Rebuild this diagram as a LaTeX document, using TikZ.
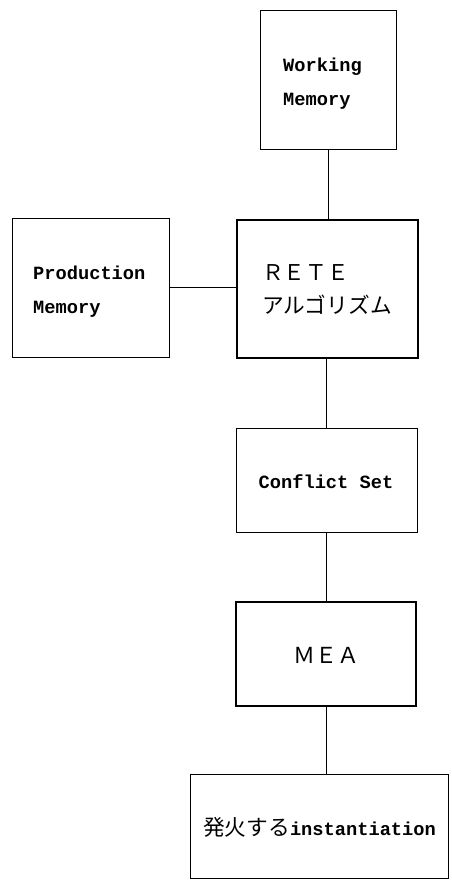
\documentclass[tikz,border=0pt]{standalone}
\usepackage{fontspec}
\newfontfamily\latmono{Liberation Mono}[BoldFont={Liberation Mono Bold}]
\newfontfamily\jpfont{Noto Sans CJK JP}
\newcommand{\latsz}{\latmono\bfseries\fontsize{18.7}{20}\selectfont}
\newcommand{\jpsz}{\jpfont\fontsize{21.7}{24}\selectfont}
\begin{document}
\begin{tikzpicture}[x=1pt,y=-1pt,
  thinbox/.style={draw=black,line width=1pt,rectangle,inner sep=0pt},
  thickbox/.style={draw=black,line width=2.6pt,rectangle,inner sep=0pt},
  lbl/.style={anchor=base west,inner sep=0pt,font=\latsz},
  jlbl/.style={anchor=base west,inner sep=0pt,font=\jpsz},
  conn/.style={draw=black,line width=1pt}]
\useasboundingbox (0,0) rectangle (451,880);
% boxes
\node[thinbox,minimum width=136pt,minimum height=138pt] (wm) at (328,80) {};
\node[thinbox,minimum width=157pt,minimum height=139pt] (pm) at (90.5,287.5) {};
\node[thickbox,minimum width=181pt,minimum height=138pt] (rete) at (327.5,289) {};
\node[thinbox,minimum width=181pt,minimum height=104pt] (cs) at (326.5,480) {};
\node[thickbox,minimum width=180pt,minimum height=104pt] (mea) at (326,654) {};
\node[thinbox,minimum width=258pt,minimum height=104pt] (fire) at (319,826) {};
% texts
\node[lbl] (wm1) at (283,72) {Working};
\node[lbl] (wm2) at (283,106) {Memory};
\node[lbl] (pm1) at (33,279) {Production};
\node[lbl] (pm2) at (33,313) {Memory};
\node[jlbl] (r1) at (262,280) {ＲＥＴＥ};
\node[jlbl] (r2) at (262,313) {アルゴリズム};
\node[lbl,anchor=base] (cst) at (326,488) {Conflict Set};
\node[jlbl,anchor=base,font=\jpfont\fontsize{22}{24}\selectfont] (meat) at (326,663) {ＭＥＡ};
\node[jlbl] (firet) at (203,835) {発火する{\latsz instantiation}};
% connectors
\draw[conn] (wm.south) -- (wm.south |- rete.north);
\draw[conn] (pm.east) -- (pm.east -| rete.west);
\draw[conn] (rete.south -| cs.north) -- (cs.north);
\draw[conn] (cs.south) -- (cs.south |- mea.north);
\draw[conn] (mea.south) -- (mea.south |- fire.north);
\end{tikzpicture}
\end{document}
